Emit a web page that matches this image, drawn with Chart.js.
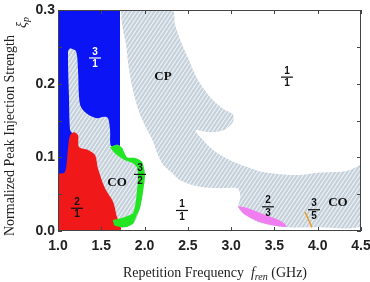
<!DOCTYPE html>
<html>
<head>
<meta charset="utf-8">
<script src="https://cdn.jsdelivr.net/npm/chart.js@4.4.0/dist/chart.umd.min.js"></script>
<style>
  html, body { margin: 0; padding: 0; background: #fff; }
</style>
</head>
<body>
<canvas id="map" width="370" height="282"></canvas>
<script>
// axis ticks
const xTicks = [1.0, 1.5, 2.0, 2.5, 3.0, 3.5, 4.0, 4.5];
const yTicks = [0.0, 0.1, 0.2, 0.3];

// region outlines as [f_rep (GHz), xi_p]
const blueRegion = [[1.0, 0.3], [1.716, 0.3], [1.716, 0.115], [1.139, 0.115], [1.139, 0.07], [1.0, 0.07]];
const coLeft = [[1.139, 0.248], [1.208, 0.244], [1.231, 0.219], [1.243, 0.182], [1.266, 0.168], [1.347, 0.158],
  [1.451, 0.153], [1.531, 0.155], [1.578, 0.153], [1.601, 0.137], [1.612, 0.115], [1.682, 0.117], [1.739, 0.113],
  [1.797, 0.100], [1.889, 0.099], [1.970, 0.094], [2.005, 0.076], [1.982, 0.053], [1.947, 0.031], [1.878, 0.011],
  [1.774, 0.005], [1.658, 0.005], [1.635, 0.015], [1.543, 0.042], [1.462, 0.083], [1.370, 0.107], [1.243, 0.113],
  [1.162, 0.133], [1.139, 0.137], [1.127, 0.182], [1.116, 0.244]];
const redRegion = [[1.0, 0.0], [1.0, 0.076], [1.081, 0.080], [1.116, 0.113], [1.139, 0.130], [1.185, 0.134],
  [1.231, 0.130], [1.243, 0.114], [1.347, 0.110], [1.428, 0.103], [1.462, 0.085], [1.543, 0.058], [1.635, 0.040],
  [1.674, 0.022], [1.716, 0.0]];
const greenRegion = [[1.601, 0.114], [1.682, 0.117], [1.739, 0.113], [1.797, 0.100], [1.889, 0.099], [1.970, 0.094],
  [2.005, 0.076], [1.982, 0.053], [1.947, 0.031], [1.901, 0.019], [1.866, 0.010], [1.774, 0.005], [1.658, 0.007],
  [1.635, 0.015], [1.682, 0.016], [1.774, 0.019], [1.866, 0.024], [1.901, 0.042], [1.924, 0.072], [1.913, 0.086],
  [1.866, 0.092], [1.774, 0.096], [1.682, 0.103], [1.624, 0.110]];
const pinkRegion = [[3.079, 0.034], [3.195, 0.031], [3.391, 0.022], [3.584, 0.013], [3.641, 0.006], [3.507, 0.007],
  [3.314, 0.013], [3.160, 0.022], [3.102, 0.029]];
const orangeLine = [[3.853, 0.026], [3.934, 0.005]];
const cpRegion = [[1.728, 0.300], [1.739, 0.280], [1.785, 0.253], [1.820, 0.219], [1.878, 0.185], [1.947, 0.158],
  [2.017, 0.140], [2.097, 0.122], [2.155, 0.103], [2.213, 0.090], [2.317, 0.079], [2.409, 0.069], [2.640, 0.060],
  [2.871, 0.058], [3.068, 0.058], [3.102, 0.052], [3.102, 0.042], [3.079, 0.034], [3.102, 0.029], [3.160, 0.022],
  [3.310, 0.012], [3.507, 0.007], [3.645, 0.005], [3.969, 0.005], [4.5, 0.007], [4.5, 0.090], [4.465, 0.088],
  [4.315, 0.081], [4.003, 0.079], [3.795, 0.076], [3.564, 0.077], [3.368, 0.080], [3.183, 0.087], [2.987, 0.096],
  [2.790, 0.110], [2.640, 0.128], [2.583, 0.136], [2.606, 0.137], [2.756, 0.134], [2.918, 0.137], [3.021, 0.148],
  [3.021, 0.158], [2.894, 0.167], [2.756, 0.182], [2.617, 0.205], [2.502, 0.235], [2.421, 0.257], [2.352, 0.280],
  [2.317, 0.300]];

// locking ratio labels: numerator, denominator, f_rep, xi_p
const ratios = [['3', '1', 1.427, 0.235], ['1', '1', 3.645, 0.209], ['3', '2', 1.947, 0.077],
  ['2', '1', 1.219, 0.031], ['1', '1', 2.432, 0.028], ['2', '3', 3.426, 0.033], ['3', '5', 3.957, 0.029]];
const ratioColors = ['#fff', '#111', '#111', '#111', '#111', '#111', '#111'];
const words = [['CP', 2.213, 0.209], ['CO', 1.682, 0.066], ['CO', 4.234, 0.038]];

function hatch() {
    const c = document.createElement('canvas');
    c.width = 4; c.height = 6;
    const g = c.getContext('2d');
    g.fillStyle = '#c6d2db';
    g.fillRect(0, 0, 4, 6);
    g.strokeStyle = '#eef2f5';
    g.lineWidth = 1.1;
    for (const dx of [-4, 0, 4]) {
        g.beginPath();
        g.moveTo(dx, 6);
        g.lineTo(dx + 4, 0);
        g.stroke();
    }
    return g.createPattern(c, 'repeat');
}
const stripes = hatch();

function region(pts, color, order, tension) {
    const data = pts.map(p => ({x: p[0], y: p[1]}));
    data.push({x: pts[0][0], y: pts[0][1]});
    return {
        data: data,
        showLine: true,
        fill: 'shape',
        backgroundColor: color,
        borderColor: 'rgba(0,0,0,0)',
        borderWidth: 0,
        pointRadius: 0,
        tension: tension,
        order: order,
    };
}

const decor = {
    id: 'decor',
    afterDatasetsDraw(chart) {
        const {ctx, scales: {x, y}} = chart;
        ctx.save();
        ctx.textAlign = 'center';
        ctx.textBaseline = 'middle';
        ratios.forEach((r, i) => {
            const px = x.getPixelForValue(r[2]);
            const py = y.getPixelForValue(r[3]);
            ctx.fillStyle = ratioColors[i];
            ctx.font = 'bold 10px "Liberation Sans", Arial, sans-serif';
            ctx.fillText(r[0], px, py - 6);
            ctx.fillText(r[1], px, py + 6.5);
            ctx.fillRect(px - 6, py - 0.5, 12, 1.2);
        });
        ctx.fillStyle = '#111';
        ctx.font = 'bold 13px "Liberation Serif", "Times New Roman", serif';
        words.forEach(w => {
            ctx.fillText(w[0], x.getPixelForValue(w[1]), y.getPixelForValue(w[2]));
        });
        ctx.restore();
    },
    afterDraw(chart) {
        const {ctx, chartArea: a, scales: {x, y}} = chart;
        ctx.save();
        ctx.strokeStyle = '#444';
        ctx.lineWidth = 1;
        ctx.strokeRect(a.left + 0.5, a.top + 0.5, a.right - a.left - 1, a.bottom - a.top - 1);
        ctx.beginPath();
        xTicks.forEach(v => {
            const px = Math.round(x.getPixelForValue(v)) + 0.5;
            ctx.moveTo(px, a.bottom); ctx.lineTo(px, a.bottom - 4);
            ctx.moveTo(px, a.top); ctx.lineTo(px, a.top + 4);
        });
        y.ticks.forEach(t => {
            const py = Math.round(y.getPixelForValue(t.value)) + 0.5;
            ctx.moveTo(a.left, py); ctx.lineTo(a.left + 4, py);
            ctx.moveTo(a.right, py); ctx.lineTo(a.right - 4, py);
        });
        ctx.stroke();

        // x title
        ctx.fillStyle = '#222';
        ctx.textBaseline = 'alphabetic';
        ctx.textAlign = 'left';
        const fReg = '14px "Liberation Serif", "Times New Roman", serif';
        const fIt = 'italic 14px "Liberation Serif", "Times New Roman", serif';
        const fSub = 'italic 10px "Liberation Serif", "Times New Roman", serif';
        const parts = [['Repetition Frequency  ', fReg, 0], ['f', fIt, 0], ['ren', fSub, 3], [' (GHz)', fReg, 0]];
        let total = 0;
        parts.forEach(p => { ctx.font = p[1]; total += ctx.measureText(p[0]).width; });
        let cx = 215 - total / 2;
        parts.forEach(p => {
            ctx.font = p[1];
            ctx.fillText(p[0], cx, 277 + p[2]);
            cx += ctx.measureText(p[0]).width;
        });

        // y title
        ctx.save();
        ctx.translate(14, 236);
        ctx.rotate(-Math.PI / 2);
        ctx.font = fReg;
        ctx.fillText('Normalized Peak Injection Strength', 0, 0);
        ctx.restore();
        ctx.save();
        ctx.translate(26, 28);
        ctx.rotate(-Math.PI / 2);
        ctx.font = fIt;
        ctx.fillText('ξ', 0, 0);
        const w = ctx.measureText('ξ').width;
        ctx.font = fSub;
        ctx.fillText('p', w, 3);
        ctx.restore();
        ctx.restore();
    }
};

const orangeSet = region(orangeLine, '#e8a030', 1, 0);
orangeSet.fill = false;
orangeSet.borderColor = '#e8a030';
orangeSet.borderWidth = 1.5;

new Chart(document.getElementById('map'), {
    type: 'scatter',
    data: {
        datasets: [
            orangeSet,
            region(pinkRegion, '#f07ef0', 2, 0.3),
            region(greenRegion, '#22e622', 3, 0.2),
            region(redRegion, '#f01818', 4, 0.3),
            region(coLeft, stripes, 5, 0.3),
            region(blueRegion, '#0a14f5', 6, 0),
            region(cpRegion, stripes, 7, 0.3),
        ],
    },
    options: {
        responsive: false,
        animation: false,
        layout: { padding: { top: 10, right: 9, left: 0, bottom: 0 } },
        plugins: { legend: { display: false }, tooltip: { enabled: false } },
        scales: {
            x: {
                type: 'linear',
                min: 1.0,
                max: 4.5,
                afterBuildTicks: s => { s.ticks = xTicks.map(v => ({value: v})); },
                ticks: {
                    padding: 7,
                    color: '#222',
                    font: { family: '"Liberation Sans", Arial, sans-serif', size: 14, weight: 'bold' },
                    callback: v => v.toFixed(1),
                },
                grid: { display: false, drawTicks: false },
                border: { display: false },
                afterFit: s => { s.height = 51; s.paddingLeft = 0; s.paddingRight = 0; },
            },
            y: {
                type: 'linear',
                min: 0,
                max: 0.3,
                ticks: {
                    stepSize: 0.05,
                    padding: 3,
                    color: '#222',
                    font: { family: '"Liberation Sans", Arial, sans-serif', size: 14, weight: 'bold' },
                    callback: v => yTicks.some(t => Math.abs(t - v) < 1e-6) ? v.toFixed(1) : '',
                },
                grid: { display: false, drawTicks: false },
                border: { display: false },
                afterFit: s => { s.width = 58; s.paddingTop = 0; s.paddingBottom = 0; },
            },
        },
    },
    plugins: [decor],
});
</script>
</body>
</html>
